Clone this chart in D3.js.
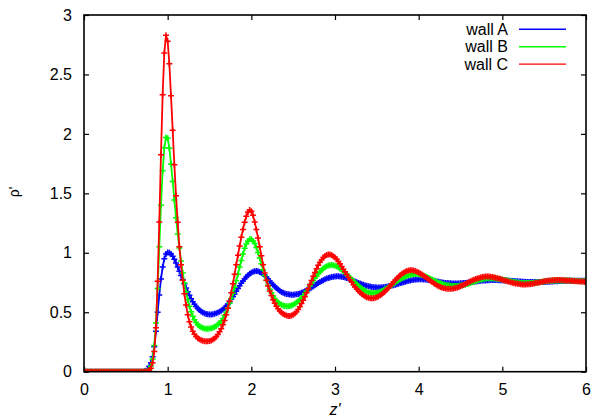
<!DOCTYPE html>
<html><head><meta charset="utf-8">
<script src="https://cdn.jsdelivr.net/npm/d3@7"></script>
<style>body{margin:0;background:#fff}svg text{font-family:"Liberation Sans",Arial,sans-serif}</style>
</head><body>
<svg id="c" width="594" height="420"></svg>
<script>
// ---- data ----
const zStep = 0.02;            // sampling step of z' (points start at z'=0)
const xTicks = [0, 1, 2, 3, 4, 5, 6];
const yTicks = [0, 0.5, 1, 1.5, 2, 2.5, 3];
const seriesNames = ["wall A", "wall B", "wall C"];

const wallA = [
0,0,0,0,0,0,0,0,0,0,
0,0,0,0,0,0,0,0,0,0,
0,0,0,0,0,0,0,0,0,0,
0,0,0,0,0,0,0.002,0.008,0.022,0.045,
0.075,0.125,0.21,0.34,0.50,0.645,0.78,0.88,0.95,0.99,
1.003,1.0,0.99,0.97,0.945,0.915,0.88,0.845,0.81,0.775,
0.74,0.705,0.672,0.642,0.614,0.589,0.567,0.548,0.532,0.518,
0.507,0.498,0.491,0.486,0.483,0.482,0.482,0.484,0.487,0.491,
0.497,0.504,0.513,0.524,0.537,0.552,0.569,0.588,0.609,0.631,
0.654,0.677,0.70,0.722,0.743,0.763,0.781,0.797,0.811,0.823,
0.833,0.84,0.845,0.846,0.844,0.839,0.832,0.822,0.81,0.797,
0.78,0.763,0.747,0.731,0.716,0.703,0.691,0.68,0.671,0.664,
0.658,0.654,0.651,0.649,0.648,0.648,0.649,0.651,0.654,0.658,
0.663,0.669,0.676,0.684,0.692,0.70,0.709,0.718,0.727,0.736,
0.745,0.754,0.762,0.77,0.777,0.783,0.788,0.792,0.796,0.799,
0.801,0.802,0.802,0.801,0.799,0.796,0.792,0.788,0.783,0.777,
0.771,0.765,0.759,0.753,0.747,0.741,0.736,0.731,0.726,0.722,
0.719,0.716,0.713,0.711,0.71,0.709,0.709,0.709,0.71,0.711,
0.713,0.715,0.718,0.721,0.724,0.728,0.732,0.736,0.74,0.745,
0.749,0.753,0.757,0.761,0.765,0.768,0.771,0.773,0.775,0.776,
0.777,0.777,0.777,0.776,0.775,0.773,0.771,0.769,0.766,0.764,
0.761,0.758,0.756,0.753,0.751,0.749,0.747,0.745,0.744,0.743,
0.742,0.742,0.742,0.742,0.742,0.743,0.744,0.745,0.746,0.748,
0.75,0.752,0.754,0.756,0.758,0.76,0.762,0.764,0.766,0.767,
0.768,0.769,0.77,0.771,0.771,0.771,0.771,0.771,0.77,0.77,
0.769,0.768,0.767,0.766,0.765,0.764,0.763,0.762,0.761,0.76,
0.759,0.758,0.757,0.756,0.755,0.755,0.754,0.754,0.754,0.754,
0.754,0.754,0.754,0.754,0.755,0.755,0.756,0.757,0.757,0.758,
0.759,0.76,0.761,0.761,0.762,0.763,0.763,0.764,0.764,0.764,
0.765,0.765,0.765,0.765,0.765,0.765,0.765,0.764,0.764,0.764,
0.764];

const wallB = [
0,0,0,0,0,0,0,0,0,0,
0,0,0,0,0,0,0,0,0,0,
0,0,0,0,0,0,0,0,0,0,
0,0,0,0,0,0,0,0.002,0.007,0.02,
0.048,0.107,0.22,0.41,0.70,1.05,1.40,1.69,1.884,1.97,
1.963,1.88,1.747,1.60,1.444,1.295,1.158,1.04,0.93,0.83,
0.745,0.67,0.605,0.55,0.505,0.467,0.437,0.413,0.395,0.382,
0.373,0.367,0.364,0.362,0.362,0.363,0.366,0.37,0.376,0.385,
0.396,0.41,0.427,0.448,0.474,0.503,0.537,0.575,0.615,0.66,
0.71,0.765,0.82,0.88,0.935,0.99,1.038,1.075,1.10,1.114,
1.115,1.10,1.078,1.045,1.003,0.957,0.908,0.858,0.81,0.766,
0.727,0.693,0.663,0.637,0.615,0.597,0.582,0.571,0.563,0.557,
0.553,0.551,0.551,0.553,0.557,0.563,0.571,0.581,0.592,0.605,
0.62,0.638,0.657,0.677,0.698,0.72,0.742,0.764,0.785,0.805,
0.823,0.84,0.855,0.868,0.879,0.887,0.893,0.896,0.897,0.896,
0.892,0.886,0.878,0.868,0.857,0.845,0.832,0.818,0.804,0.79,
0.776,0.762,0.748,0.735,0.722,0.71,0.699,0.689,0.68,0.673,
0.667,0.663,0.661,0.66,0.661,0.663,0.667,0.672,0.678,0.685,
0.693,0.702,0.711,0.721,0.731,0.741,0.75,0.76,0.769,0.778,
0.786,0.793,0.80,0.806,0.811,0.815,0.818,0.82,0.821,0.821,
0.82,0.817,0.813,0.808,0.802,0.796,0.789,0.782,0.775,0.768,
0.761,0.755,0.749,0.743,0.738,0.734,0.73,0.727,0.724,0.722,
0.721,0.72,0.72,0.721,0.722,0.724,0.727,0.73,0.734,0.738,
0.742,0.747,0.752,0.757,0.762,0.767,0.771,0.775,0.778,0.781,
0.783,0.785,0.786,0.786,0.786,0.785,0.784,0.782,0.78,0.777,
0.775,0.772,0.769,0.766,0.763,0.76,0.757,0.755,0.752,0.75,
0.748,0.747,0.746,0.745,0.745,0.745,0.745,0.746,0.747,0.748,
0.75,0.751,0.753,0.755,0.757,0.759,0.76,0.762,0.763,0.764,
0.765,0.766,0.767,0.767,0.768,0.768,0.768,0.767,0.767,0.766,
0.766,0.765,0.764,0.764,0.763,0.762,0.762,0.761,0.761,0.76,
0.76];

const wallC = [
0,0,0,0,0,0,0,0,0,0,
0,0,0,0,0,0,0,0,0,0,
0,0,0,0,0,0,0,0,0,0,
0,0,0,0,0,0,0,0,0.003,0.01,
0.03,0.075,0.17,0.37,0.76,1.26,1.825,2.33,2.68,2.83,
2.78,2.59,2.32,2.03,1.74,1.48,1.256,1.05,0.90,0.77,
0.655,0.56,0.48,0.42,0.375,0.34,0.315,0.296,0.282,0.272,
0.265,0.26,0.257,0.256,0.256,0.258,0.263,0.27,0.28,0.294,
0.312,0.335,0.362,0.394,0.43,0.478,0.533,0.595,0.665,0.74,
0.82,0.90,0.98,1.057,1.13,1.197,1.257,1.307,1.343,1.36,
1.35,1.315,1.26,1.195,1.125,1.05,0.975,0.90,0.83,0.77,
0.72,0.678,0.64,0.605,0.575,0.55,0.529,0.511,0.497,0.486,
0.478,0.472,0.469,0.469,0.472,0.479,0.49,0.505,0.524,0.547,
0.573,0.60,0.63,0.663,0.698,0.733,0.768,0.802,0.835,0.866,
0.895,0.92,0.942,0.96,0.973,0.981,0.985,0.985,0.981,0.972,
0.96,0.945,0.927,0.907,0.885,0.862,0.84,0.817,0.795,0.773,
0.752,0.732,0.713,0.696,0.68,0.666,0.653,0.642,0.633,0.626,
0.621,0.618,0.617,0.618,0.621,0.626,0.633,0.642,0.652,0.664,
0.677,0.691,0.706,0.722,0.738,0.754,0.77,0.785,0.799,0.812,
0.823,0.833,0.841,0.847,0.851,0.853,0.853,0.851,0.847,0.841,
0.834,0.826,0.817,0.807,0.797,0.786,0.775,0.765,0.754,0.744,
0.735,0.726,0.719,0.712,0.707,0.703,0.70,0.698,0.697,0.697,
0.698,0.70,0.703,0.707,0.712,0.718,0.724,0.731,0.738,0.746,
0.753,0.76,0.767,0.773,0.779,0.784,0.789,0.793,0.796,0.798,
0.80,0.80,0.80,0.799,0.797,0.794,0.791,0.787,0.783,0.779,
0.774,0.769,0.765,0.76,0.756,0.752,0.748,0.744,0.741,0.739,
0.737,0.735,0.734,0.734,0.734,0.735,0.736,0.738,0.74,0.742,
0.745,0.748,0.751,0.754,0.757,0.76,0.762,0.764,0.766,0.768,
0.769,0.77,0.771,0.771,0.771,0.771,0.77,0.769,0.768,0.767,
0.766,0.764,0.763,0.762,0.761,0.76,0.759,0.758,0.758,0.757,
0.757];

// ---- drawing ----
const colors = ["#0000ff", "#00ff00", "#ff0000"];
const seriesData = [wallA, wallB, wallC];
const L = 84, R = 586, T = 15, B = 371.7;
const svg = d3.select("#c");
const x = d3.scaleLinear().domain([0, 6]).range([L, R]);
const y = d3.scaleLinear().domain([0, 3]).range([B, T]);
const fs = 16;

svg.append("defs").append("clipPath").attr("id", "clip")
  .append("rect").attr("x", L).attr("y", T).attr("width", R - L).attr("height", B - T);

const gx = svg.append("g").attr("transform", `translate(0,${B})`)
  .call(d3.axisBottom(x).tickValues(xTicks).tickSize(-5).tickPadding(12).tickFormat(d => d));
const gxt = svg.append("g").attr("transform", `translate(0,${T})`)
  .call(d3.axisTop(x).tickValues(xTicks).tickSize(-5).tickFormat(""));
const gy = svg.append("g").attr("transform", `translate(${L},0)`)
  .call(d3.axisLeft(y).tickValues(yTicks).tickSize(-5).tickPadding(12).tickFormat(d => d));
const gyr = svg.append("g").attr("transform", `translate(${R},0)`)
  .call(d3.axisRight(y).tickValues(yTicks).tickSize(-5).tickFormat(""));
[gx, gxt, gy, gyr].forEach(g => {
  g.select(".domain").remove();
  g.selectAll(".tick line").attr("stroke", "#000").attr("stroke-width", 1.2);
  g.selectAll("text").attr("font-size", fs).attr("fill", "#000")
    .style("font-family", '"Liberation Sans", Arial, sans-serif');
});

const plot = svg.append("g").attr("clip-path", "url(#clip)");
const line = d3.line().x((d, i) => x(i * zStep)).y(d => y(d));
const plus = "M-3,0H3M0,-3V3";
seriesData.forEach((vals, k) => {
  plot.append("path").datum(vals).attr("d", line)
    .attr("fill", "none").attr("stroke", colors[k]).attr("stroke-width", 1.8);
  plot.append("g").selectAll("path").data(vals).join("path")
    .attr("transform", (d, i) => `translate(${x(i * zStep)},${y(d)})`)
    .attr("d", plus).attr("stroke", colors[k]).attr("stroke-width", 1.5).attr("fill", "none");
});

svg.append("rect").attr("x", L).attr("y", T).attr("width", R - L).attr("height", B - T)
  .attr("fill", "none").attr("stroke", "#000").attr("stroke-width", 1.6);

// legend
const leg = svg.append("g");
seriesNames.forEach((n, k) => {
  const yy = 29.3 + k * 17.4;
  leg.append("text").attr("x", 508).attr("y", yy + 5.7).attr("text-anchor", "end")
    .attr("font-size", fs).text(n);
  leg.append("line").attr("x1", 519).attr("x2", 566).attr("y1", yy).attr("y2", yy)
    .attr("stroke", colors[k]).attr("stroke-width", 1.4);
});

// axis titles
svg.append("text").attr("x", (L + R) / 2).attr("y", 415).attr("text-anchor", "middle")
  .attr("font-size", fs).attr("font-style", "italic").text("z'");
svg.append("text").attr("transform", "translate(19,192) rotate(-90)").attr("text-anchor", "middle")
  .attr("font-size", 14).text("ρ'");
</script>
</body></html>
